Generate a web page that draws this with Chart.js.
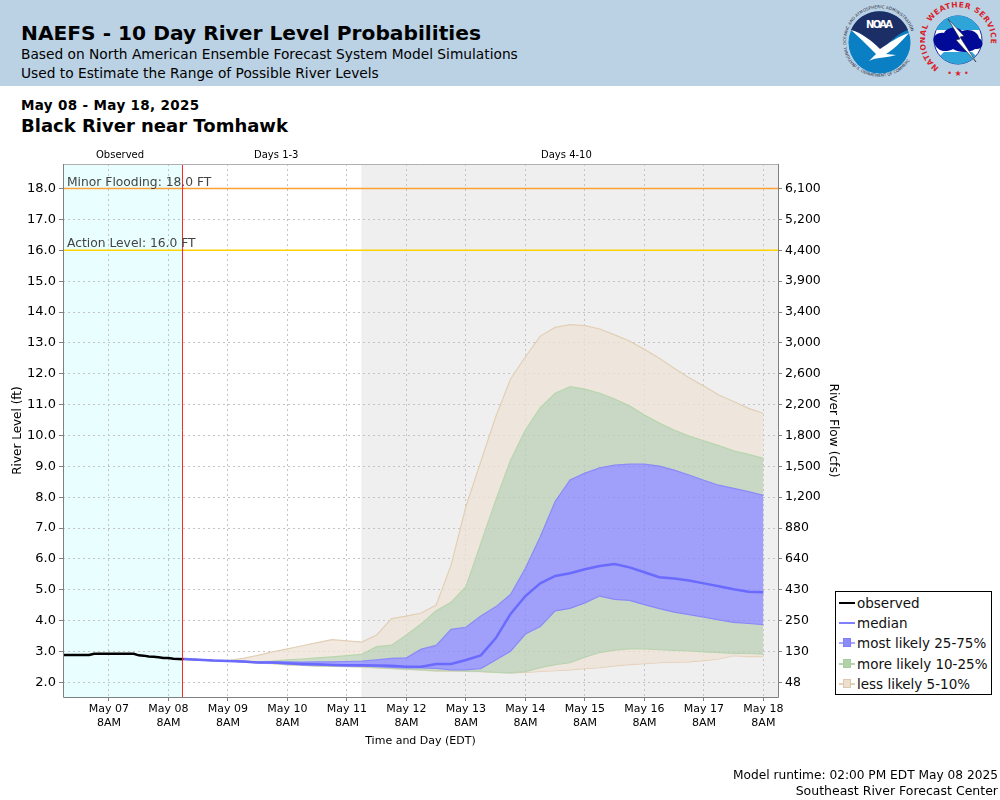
<!DOCTYPE html>
<html><head><meta charset="utf-8">
<style>
html,body{margin:0;padding:0;background:#fff;width:1000px;height:800px;overflow:hidden;font-family:"DejaVu Sans",sans-serif;color:#000}
#c{position:absolute;left:0;top:0}
.t{position:absolute;white-space:nowrap;line-height:1}
#hdr{position:absolute;left:0;top:0;width:1000px;height:86px;background:#BBD2E5}
#legend{position:absolute;left:835px;top:591px;width:155px;height:102px;border:1px solid #000;background:#fff}
.row{position:absolute;left:3px;height:20px;width:150px;font-size:13.5px;line-height:20px;white-space:nowrap}
.row i{position:absolute;left:0;top:9px;width:16px;height:2px}
.row b{position:absolute;left:4px;top:5px;width:8px;height:9px;box-sizing:border-box;border:1px solid}
.row span{position:absolute;left:18px;top:0;color:#111}
svg{position:absolute}
</style></head><body>
<div id="hdr"></div>
<div class="t" style="left:21px;top:23px;font-size:20.2px;font-weight:bold">NAEFS - 10 Day River Level Probabilities</div>
<div class="t" style="left:21px;top:48px;font-size:13.75px">Based on North American Ensemble Forecast System Model Simulations</div>
<div class="t" style="left:21px;top:67px;font-size:13.75px">Used to Estimate the Range of Possible River Levels</div>
<svg style="left:840px;top:0" width="80" height="86" viewBox="840 0 80 86">
<defs><path id="noaaTop" d="M855.5 65 A33.5 33.5 0 1 1 903.5 65"/><path id="noaaBot" d="M849 60 A36 36 0 0 0 910 60"/></defs>
<circle cx="879.5" cy="42.5" r="31" fill="#0b7fc4"/>
<path d="M851 30 A31 31 0 0 1 908 30 C896 34 889 44 880 50 C872 44 862 35 851 30Z" fill="#1b2f66"/>
<path d="M851 30 C862 33 872 41 880 49 C889 43 899 36 909 33 C901 42 893 50 886 54 L896 55 C886 58 876 57 869 61 L876 54 C868 46 860 38 851 30Z" fill="#fff"/>
<text font-size="10" font-weight="bold" fill="#fff" x="879.5" y="28" text-anchor="middle" textLength="27">NOAA</text>
<text font-size="4" fill="#223" letter-spacing=".1"><textPath href="#noaaTop">NATIONAL OCEANIC AND ATMOSPHERIC ADMINISTRATION</textPath></text>
<text font-size="4" fill="#223"><textPath href="#noaaBot" startOffset="7">U.S. DEPARTMENT OF COMMERCE</textPath></text>
</svg>
<svg style="left:920px;top:0" width="80" height="86" viewBox="920 0 80 86">
<defs><path id="nwsTop" d="M940 68 A33 33 0 1 1 976 68"/></defs>
<circle cx="958" cy="40" r="24" fill="#fff" stroke="#1b2f9c"/>
<path d="M936 30 A24 24 0 0 1 980 30 Z" fill="#2fa4d8"/>
<path d="M940 56 A24 24 0 0 0 976 56 L972 52 L944 52Z" fill="#2fa4d8"/>
<path d="M935 45 C930 36 938 32 944 33 C948 26 958 27 962 31 C970 28 978 32 979 38 C985 42 983 50 975 49 C968 54 958 52 953 49 C946 53 938 51 935 45Z" fill="#000a96"/>
<path d="M948 19 L964 36 L960 37 L976 62 L956 40 L960 39Z" fill="#fff" stroke="#223" stroke-width=".6"/>
<text font-size="7.6" font-weight="bold" fill="#d8232a" letter-spacing=".55"><textPath href="#nwsTop" startOffset="1">NATIONAL WEATHER SERVICE</textPath></text>
<text font-size="8" fill="#d8232a" x="958" y="76" text-anchor="middle">• ★ •</text>
</svg>
<div class="t" style="left:21px;top:99px;font-size:13.5px;font-weight:bold;letter-spacing:.35px">May 08 - May 18, 2025</div>
<div class="t" style="left:21px;top:117px;font-size:18px;font-weight:bold">Black River near Tomhawk</div>
<canvas id="c" width="1000" height="800" style="width:1000px;height:800px"></canvas>
<div class="t" style="left:96px;top:150px;font-size:10px">Observed</div>
<div class="t" style="left:254px;top:150px;font-size:10px">Days 1-3</div>
<div class="t" style="left:541px;top:150px;font-size:10px">Days 4-10</div>
<div id="legend">
<div class="row" style="top:1px"><i style="background:#000"></i><span>observed</span></div>
<div class="row" style="top:21px"><i style="background:#8080ff"></i><span>median</span></div>
<div class="row" style="top:41px"><i style="background:#a8a8ff"></i><b style="background:#8c8cf6;border-color:#8080ff"></b><span>most likely 25-75%</span></div>
<div class="row" style="top:62px"><i style="background:#b8d4b0"></i><b style="background:#b4d2aa;border-color:#a8cca0"></b><span>more likely 10-25%</span></div>
<div class="row" style="top:82px"><i style="background:#e4d2bc"></i><b style="background:#ecdfce;border-color:#dcc8ae"></b><span>less likely 5-10%</span></div>
</div>
<div class="t" style="right:2px;top:769px;font-size:12.2px">Model runtime: 02:00 PM EDT May 08 2025</div>
<div class="t" style="right:2px;top:785px;font-size:12.5px">Southeast River Forecast Center</div>
<script src="https://cdn.jsdelivr.net/npm/chart.js@4"></script>
<script>
const dayTickHours = [0,24,48,72,96,120,144,168,192,216,240,264];
const dayLabels = ["May 07","May 08","May 09","May 10","May 11","May 12","May 13","May 14","May 15","May 16","May 17","May 18"];
const flowTickLabels = ["48","130","250","430","640","880","1,200","1,500","1,800","2,200","2,600","3,000","3,400","3,900","4,400","5,200","6,100"];

// hours after May 07 8AM EDT
const forecastHours = [30,36,42,48,54,60,66,72,78,84,90,96,102,108,114,120,126,132,138,144,150,156,162,168,174,180,186,192,198,204,210,216,222,228,234,240,246,252,258,264];
const lessUpper = [2.78,2.75,2.72,2.71,2.78,2.88,2.99,3.09,3.19,3.29,3.39,3.35,3.31,3.54,4.07,4.15,4.25,4.51,5.8,7.7,9.15,10.6,11.83,12.55,13.22,13.5,13.59,13.56,13.45,13.26,13.06,12.79,12.5,12.18,11.87,11.6,11.31,11.1,10.88,10.72];
const moreUpper = [2.78,2.75,2.72,2.71,2.69,2.67,2.69,2.73,2.76,2.8,2.83,2.87,2.91,3.16,3.21,3.54,3.9,4.32,4.6,5.1,6.5,7.9,9.2,10.18,10.9,11.37,11.58,11.5,11.37,11.18,10.96,10.66,10.4,10.18,9.98,9.83,9.67,9.5,9.39,9.26];
const likelyUpper = [2.77,2.74,2.72,2.71,2.69,2.66,2.67,2.67,2.66,2.67,2.67,2.68,2.69,2.73,2.78,2.8,3.08,3.2,3.72,3.79,4.15,4.45,4.85,5.7,6.72,7.86,8.56,8.78,8.95,9.04,9.07,9.07,9.01,8.88,8.72,8.55,8.39,8.29,8.18,8.06];
const median = [2.76,2.74,2.71,2.7,2.68,2.65,2.65,2.62,2.6,2.59,2.57,2.56,2.56,2.55,2.54,2.51,2.51,2.6,2.6,2.73,2.88,3.43,4.22,4.8,5.21,5.45,5.54,5.67,5.77,5.84,5.73,5.57,5.41,5.37,5.3,5.21,5.12,5.02,4.94,4.92];
const likelyLower = [2.75,2.73,2.71,2.7,2.67,2.64,2.63,2.6,2.57,2.56,2.55,2.54,2.53,2.51,2.49,2.47,2.47,2.46,2.41,2.41,2.45,2.73,3.01,3.57,3.81,4.32,4.4,4.58,4.8,4.69,4.66,4.52,4.39,4.28,4.2,4.12,4.03,3.95,3.91,3.87];
const moreLower = [2.75,2.73,2.71,2.7,2.67,2.64,2.62,2.58,2.56,2.54,2.53,2.52,2.51,2.48,2.46,2.43,2.41,2.38,2.38,2.37,2.36,2.33,2.31,2.35,2.48,2.58,2.64,2.82,2.97,3.05,3.09,3.09,3.06,3.04,3.02,2.99,2.97,2.94,2.94,2.92];
const lessLower = [2.74,2.72,2.7,2.69,2.66,2.63,2.61,2.57,2.55,2.53,2.52,2.51,2.5,2.47,2.45,2.42,2.4,2.37,2.37,2.36,2.35,2.33,2.31,2.33,2.36,2.38,2.41,2.45,2.48,2.54,2.58,2.61,2.64,2.66,2.67,2.71,2.76,2.87,2.84,2.84];

const observedHours = [-18.5,-16,-14,-12,-10,-8,-6,-4,-2,0,2,4,6,8,10,12,14,16,18,20,22,24,26,28,30];
const observedLevels = [2.89,2.89,2.89,2.89,2.89,2.89,2.93,2.93,2.93,2.93,2.93,2.93,2.93,2.93,2.93,2.88,2.87,2.84,2.83,2.82,2.79,2.79,2.77,2.76,2.75];

const thresholds = [["Minor Flooding: 18.0 FT",18,"#FFA033"],["Action Level: 16.0 FT",16,"#FFD400"]];
const xMin=-18.55, xMax=269.9, yMin=1.53, yMax=18.794, forecastStart=29.65, daysFourStart=101.8;

const pts=(xs,ys)=>xs.map((x,i)=>({x,y:ys[i]}));
const band=(ys,color,fill,order)=>({data:pts(forecastHours,ys),borderColor:color,borderWidth:1.2,pointRadius:0,tension:0,fill:fill?{target:'+1',above:fill,below:fill}:false,backgroundColor:fill||undefined,order});
const tan='rgba(238,227,214,0.75)',grn='rgba(187,208,182,0.75)',blu='rgba(134,134,254,0.75)';

const regions={id:'regions',beforeDraw(ch){
  const {ctx,chartArea:a,scales:{x}}=ch;
  ctx.save();
  ctx.fillStyle='#E9FFFF';ctx.fillRect(a.left,a.top,x.getPixelForValue(forecastStart)-a.left,a.height);
  ctx.fillStyle='#EFEFEF';const g=x.getPixelForValue(daysFourStart);ctx.fillRect(g,a.top,a.right-g,a.height);
  ctx.restore();
},afterDraw(ch){
  const {ctx,chartArea:a,scales:{y}}=ch;
  ctx.save();
  ctx.strokeStyle='#B0B0B0';ctx.lineWidth=1;
  ctx.beginPath();ctx.moveTo(a.left,a.top+.5);ctx.lineTo(a.right,a.top+.5);ctx.stroke();
  ctx.strokeStyle='#808080';
  ctx.beginPath();ctx.moveTo(a.left+.5,a.top);ctx.lineTo(a.left+.5,a.bottom+.5);ctx.lineTo(a.right+.5,a.bottom+.5);ctx.lineTo(a.right+.5,a.top);ctx.stroke();
  ctx.fillStyle='#444';ctx.font='12.3px "DejaVu Sans"';ctx.textAlign='left';ctx.textBaseline='alphabetic';
  thresholds.forEach(t=>ctx.fillText(t[0],a.left+4,y.getPixelForValue(t[1])-3));
  ctx.restore();
}};

new Chart(document.getElementById('c'),{
 type:'line',
 plugins:[regions],
 data:{datasets:[
  band(lessUpper,'#E3CFB6',tan,7),
  band(moreUpper,'#B9D5AE',grn,6),
  band(likelyUpper,'#8A8AF8',blu,5),
  band(likelyLower,'#8A8AF8',grn,5),
  band(moreLower,'#B9D5AE',tan,6),
  band(lessLower,'#E3CFB6',null,7),
  {data:pts(forecastHours,median),borderColor:'#6A6AFF',borderWidth:2.5,pointRadius:0,tension:0,fill:false,order:2},
  {data:pts(observedHours,observedLevels),borderColor:'#000',borderWidth:2.5,pointRadius:0,tension:0,fill:false,order:1},
  {data:pts([xMin,xMax],[thresholds[0][1],thresholds[0][1]]),borderColor:thresholds[0][2],borderWidth:1.3,pointRadius:0,fill:false,order:3},
  {data:pts([xMin,xMax],[thresholds[1][1],thresholds[1][1]]),borderColor:thresholds[1][2],borderWidth:1.3,pointRadius:0,fill:false,order:3},
  {data:pts([forecastStart,forecastStart],[yMin,yMax]),borderColor:'#FF2020',borderWidth:1,pointRadius:0,fill:false,order:0}
 ]},
 options:{
  responsive:false,animation:false,devicePixelRatio:1,
  layout:{padding:{top:164,left:0,right:0,bottom:0}},
  plugins:{legend:{display:false},title:{display:false},tooltip:{enabled:false}},
  scales:{
   x:{type:'linear',min:xMin,max:xMax,
     afterBuildTicks(s){s.ticks=dayTickHours.map(value=>({value}));},
     afterFit(s){s.height=103;},
     ticks:{autoSkip:false,maxRotation:0,padding:2,color:'#000',font:{family:'DejaVu Sans',size:11},
       callback:v=>[dayLabels[dayTickHours.indexOf(v)],'8AM']},
     grid:{color:'#C4C4C4',tickColor:'#808080',tickLength:4,lineWidth:1},
     border:{display:false,dash:[2,3]},
     title:{display:true,text:'Time and Day (EDT)',color:'#000',font:{family:'DejaVu Sans',size:11},padding:{top:52,bottom:52}}},
   y:{type:'linear',position:'left',min:yMin,max:yMax,
     afterFit(s){s.width=63;},
     ticks:{stepSize:1,includeBounds:false,padding:3,color:'#000',font:{family:'DejaVu Sans',size:13},callback:v=>v.toFixed(1)},
     grid:{color:'#C4C4C4',tickColor:'#808080',tickLength:4,lineWidth:1},
     border:{display:false,dash:[2,3]},
     title:{display:true,text:'River Level (ft)',color:'#000',font:{family:'DejaVu Sans',size:12},padding:{top:11,bottom:0}}},
   yFlow:{type:'linear',position:'right',min:yMin,max:yMax,
     afterFit(s){s.width=222;},
     ticks:{stepSize:1,includeBounds:false,padding:3,color:'#000',font:{family:'DejaVu Sans',size:12.5},callback:v=>flowTickLabels[Math.round(v)-2]},
     grid:{drawOnChartArea:false,tickColor:'#808080',tickLength:4},
     border:{display:false},
     title:{display:true,text:'River Flow (cfs)',color:'#000',font:{family:'DejaVu Sans',size:12.2},padding:{top:160,bottom:0}}}
  }
 }
});
</script>
</body></html>
